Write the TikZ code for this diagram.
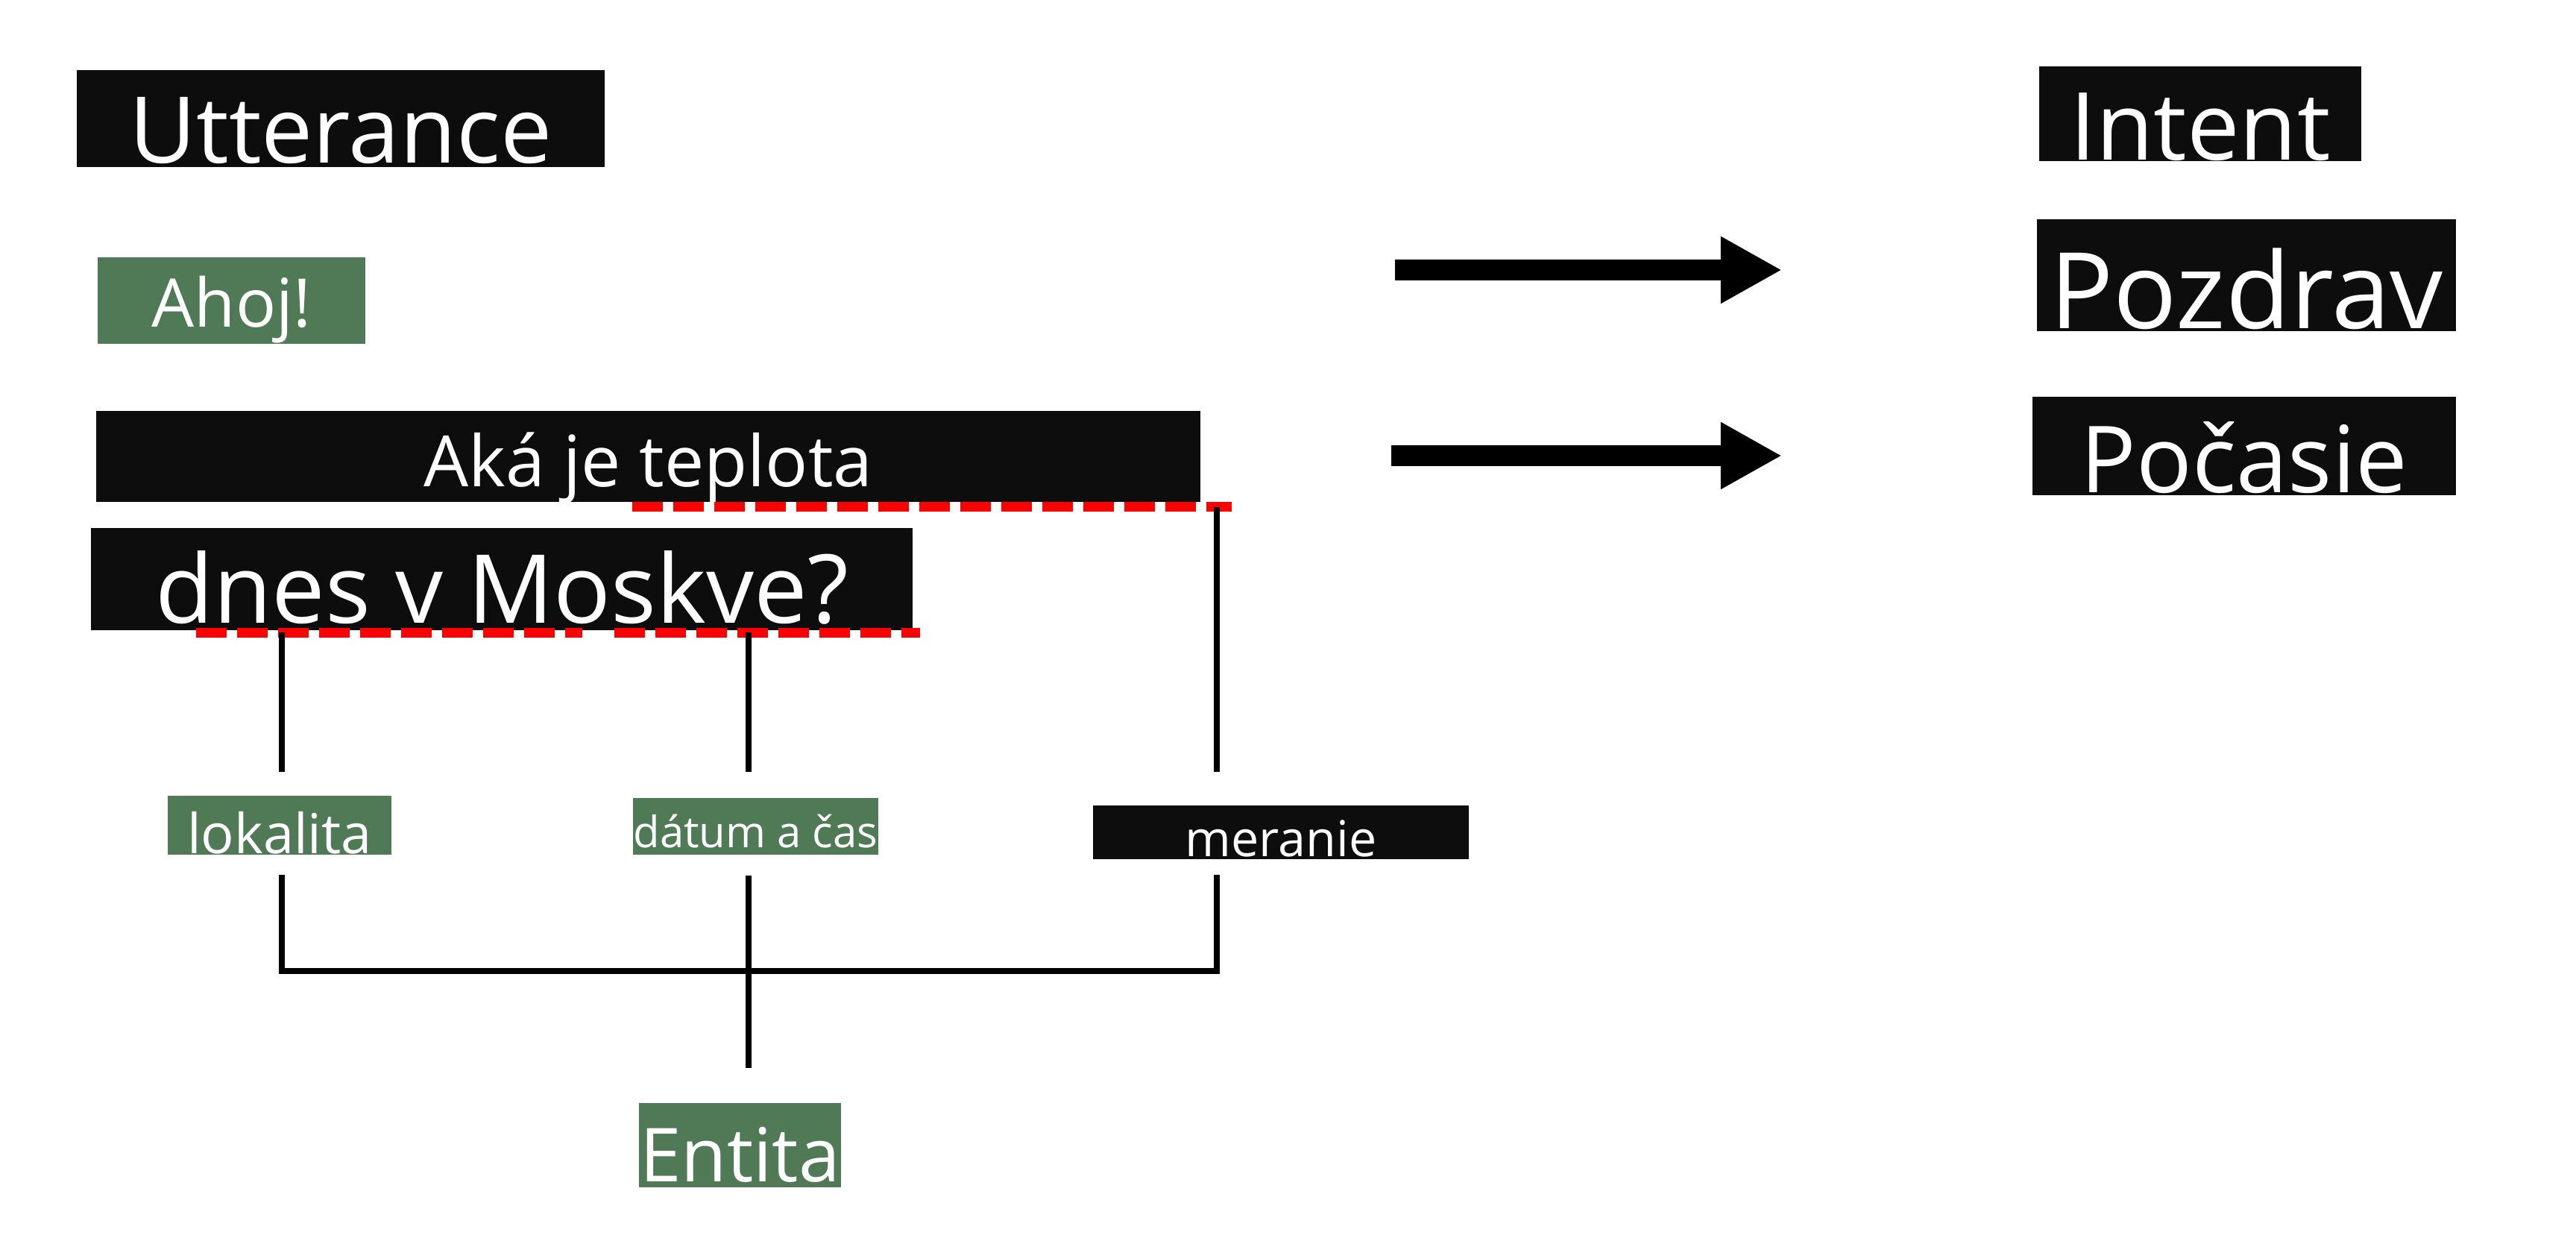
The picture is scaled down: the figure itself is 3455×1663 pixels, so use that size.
\documentclass[tikz,border=0pt]{standalone}
\usepackage{fontspec}
\setmainfont{Open Sans}
\usetikzlibrary{arrows.meta, calc}
\definecolor{tagblack}{HTML}{0D0D0D}
\definecolor{taggreen}{HTML}{507A55}
\definecolor{markred}{HTML}{FF0000}
\newcommand{\fsz}[1]{\fontsize{#1pt}{#1pt}\selectfont}

\begin{document}
\begin{tikzpicture}[x=0.01cm, y=-0.01cm,
        tag/.style={inner sep=0, anchor=base, text=white, fill=tagblack},
        gtag/.style={tag, fill=taggreen},
        conn/.style={line width=0.08cm, black},
        redmark/.style={line width=0.13cm, markred, dash pattern=on 0.41cm off 0.14cm},
        bigarrow/.style={line width=0.28cm, -{Triangle[length=0.82cm, width=0.84cm]}}]
        \useasboundingbox (0,0) rectangle (3455,1663);
        % utterances
        \node[tag, minimum width=7.08cm, text height=1.24cm, text depth=0.06cm, font=\fsz{35.1}] (utt) at (457,218) {Utterance};
        \node[gtag, minimum width=3.59cm, text height=0.93cm, text depth=0.23cm, font=\fsz{25.6}] (ahoj) at (310.5,438) {Ahoj!};
        \node[tag, minimum width=14.81cm, text height=1.01cm, text depth=0.21cm, font=\fsz{27}] (q1) at (869.5,652) {Aká je teplota};
        \node[tag, minimum width=11.02cm, text height=1.27cm, text depth=0.10cm, font=\fsz{36.3}] (q2) at (673,835) {dnes v Moskve?};
        % entities
        \node[gtag, minimum width=3.00cm, text height=0.77cm, text depth=0.015cm, font=\fsz{21}] (lok) at (375,1144) {lokalita};
        \node[gtag, minimum width=3.29cm, text height=0.66cm, text depth=0.10cm, font=\fsz{16.5}] (dat) at (1013.5,1136) {dátum a čas};
        \node[tag, minimum width=5.04cm, text height=0.68cm, text depth=0.035cm, font=\fsz{18.9}] (mer) at (1718,1148) {meranie};
        \node[gtag, minimum width=2.71cm, text height=1.05cm, text depth=0.08cm, font=\fsz{28.4}] (ent) at (992.5,1584) {Entita};
        % intents
        \node[tag, minimum width=4.32cm, text height=1.25cm, text depth=0.02cm, font=\fsz{35.8}] (intent) at (2951,214) {Intent};
        \node[tag, minimum width=5.62cm, text height=1.46cm, text depth=0.04cm, font=\fsz{40.3}] (pozdrav) at (3013,440) {Pozdrav};
        \node[tag, minimum width=5.68cm, text height=1.28cm, text depth=0.04cm, font=\fsz{35.3}] (pocasie) at (3010,660) {Počasie};
        % underlines
        \coordinate (d1s) at (848,679);  \coordinate (d1e) at (1652,679);
        \coordinate (d2s) at (263,848);  \coordinate (d2e) at (781,848);
        \coordinate (d3s) at (824,848);  \coordinate (d3e) at (1234,848);
        \draw[redmark] (d1s) -- (d1e);
        \draw[redmark] (d2s) -- (d2e);
        \draw[redmark] (d3s) -- (d3e);
        % links to entities
        \coordinate (uLok) at (378,848);
        \coordinate (uDat) at (1004,848);
        \coordinate (uMer) at (1632,680);
        \coordinate (barL) at (378,1302);
        \coordinate (barR) at (1632,1302);
        \draw[conn] (uLok) -- ($(uLok |- lok.north)+(0,-31)$);
        \draw[conn] (uDat) -- ($(uDat |- dat.north)+(0,-34)$);
        \draw[conn] (uMer) -- ($(uMer |- mer.north)+(0,-44)$);
        \draw[conn] ($(barL |- lok.south)+(0,27)$) -- (barL) -- (barR) -- ($(barR |- mer.south)+(0,21)$);
        \draw[conn] ($(uDat |- dat.south)+(0,27)$) -- ($(uDat |- ent.north)+(0,-46)$);
        % arrows
        \coordinate (a1s) at (1871,362); \coordinate (a1e) at (2390,362);
        \coordinate (a2s) at (1866,611); \coordinate (a2e) at (2390,611);
        \draw[bigarrow] (a1s) -- (a1e);
        \draw[bigarrow] (a2s) -- (a2e);
\end{tikzpicture}
\end{document}
